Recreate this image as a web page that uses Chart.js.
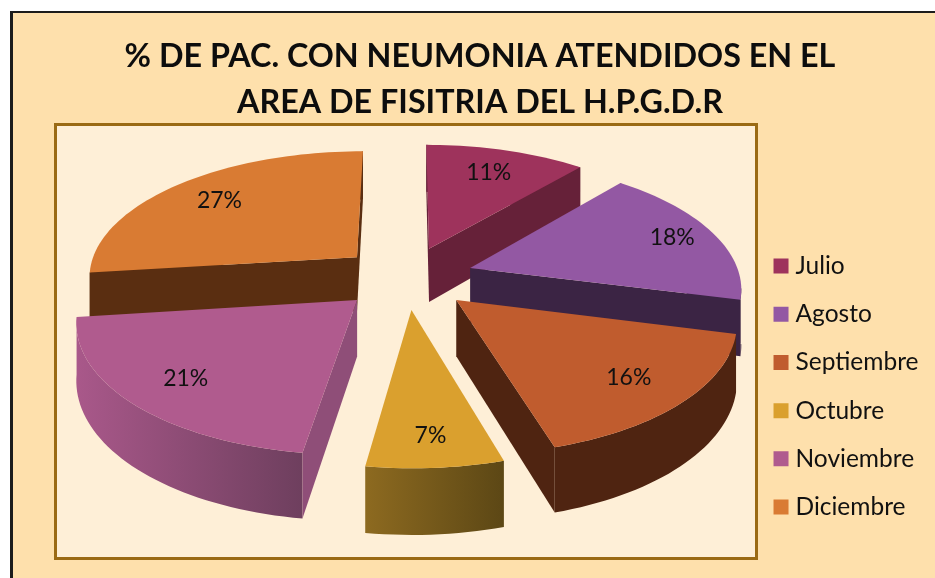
<!DOCTYPE html>
<html><head><meta charset="utf-8">
<style>html,body{margin:0;padding:0;background:#fff}canvas{display:block}</style>
<script src="https://cdn.jsdelivr.net/npm/chart.js@4"></script>
</head><body>
<div style="width:935px;height:578px"><canvas id="c" width="935" height="578"></canvas></div>
<script>
const categories = ['Julio','Agosto','Septiembre','Octubre','Noviembre','Diciembre'];
const values = [11.2,17.8,16.45,6.85,20.7,27];
const titleLines = ['% DE PAC. CON NEUMONIA ATENDIDOS EN EL','AREA DE FISITRIA DEL H.P.G.D.R'];

const topColors  = ['#9E335C','#9358A3','#C05C2E','#DAA02E','#B05B8E','#D97B33'];
const cutColors  = ['#662139','#3B2444','#4F2411','#5C4515','#8F4E78','#5A2E11'];
const rimLeft    = ['#662139','#3B2444','#4F2411','#8D6A20','#A9588A','#5A2E11'];
const rimRight   = ['#662139','#3B2444','#4F2411','#5C4715','#6E3F5E','#5A2E11'];
const labelRadius = [0.75,0.83,0.78,0.82,0.78,0.76];

const VIEW = {cx:406.5, cy:277.5, rx:270, ry:126, k:0.14, depth:55, explode:0.25};

function project(x, y, z){
  const w = 1/(1 + VIEW.k*y);
  return [VIEW.cx + VIEW.rx*x*w, VIEW.cy - VIEW.ry*y*w + VIEW.depth*z*w];
}

class Slice3D extends Chart.ArcElement {
  static id = 'slice3d';
  draw(ctx){
    const a0 = this.startAngle + Math.PI/2, a1 = this.endAngle + Math.PI/2;
    const mid = (a0+a1)/2, i = this.$index;
    const ox = VIEW.explode*Math.sin(mid), oy = VIEW.explode*Math.cos(mid);
    const rim = [];
    const n = Math.max(4, Math.ceil((a1-a0)/0.03));
    for(let s=0;s<=n;s++){
      const t = a0+(a1-a0)*s/n;
      rim.push([ox+Math.sin(t), oy+Math.cos(t)]);
    }
    const apex = [ox,oy];
    const fillPoly = (pts,fill)=>{
      ctx.beginPath();
      pts.forEach((p,j)=> j?ctx.lineTo(p[0],p[1]):ctx.moveTo(p[0],p[1]));
      ctx.closePath();ctx.fillStyle=fill;ctx.fill();
    };
    const cutWall = (p,q)=>{
      const a=project(p[0],p[1],0), b=project(q[0],q[1],0);
      if(b[0]>=a[0]) return;
      fillPoly([a,b,project(q[0],q[1],1),project(p[0],p[1],1)],cutColors[i]);
    };
    const xs = rim.map(p=>project(p[0],p[1],0)[0]);
    const g = ctx.createLinearGradient(Math.min(...xs),0,Math.max(...xs),0);
    g.addColorStop(0,rimLeft[i]);g.addColorStop(1,rimRight[i]);
    ctx.save();
    const front = rim.filter((p,s)=>{
      const here=project(p[0],p[1],0)[0];
      const prev=s>0?project(rim[s-1][0],rim[s-1][1],0)[0]:Infinity;
      const next=s<n?project(rim[s+1][0],rim[s+1][1],0)[0]:-Infinity;
      return here<prev || next<here;
    });
    if(front.length>1){
      const upper=front.map(p=>project(p[0],p[1],0));
      const lower=front.map(p=>project(p[0],p[1],1)).reverse();
      fillPoly(upper.concat(lower),g);
    }
    cutWall(apex,rim[0]);
    cutWall(rim[n],apex);
    fillPoly([project(apex[0],apex[1],0)].concat(rim.map(p=>project(p[0],p[1],0))),topColors[i]);
    const r=labelRadius[i];
    const L=project(ox+r*Math.sin(mid),oy+r*Math.cos(mid),0);
    ctx.fillStyle='#111';ctx.font='23px Lato';ctx.textAlign='center';ctx.textBaseline='middle';
    ctx.fillText(Math.round(values[i])+'%',L[0],L[1]);
    ctx.restore();
  }
}
class Pie3D extends Chart.PieController {
  static id = 'pie3d';
  static defaults = {dataElementType:'slice3d'};
  draw(){
    const ctx=this._ctx, els=this._cachedMeta.data.slice();
    els.forEach((e,i)=>{e.$index=i;});
    const depth=e=>Math.cos((e.startAngle+e.endAngle)/2+Math.PI/2);
    els.sort((a,b)=>depth(b)-depth(a));
    els.forEach(e=>e.draw(ctx));
  }
}
Chart.register(Slice3D, Pie3D);

const frame = {
  id:'frame',
  beforeDraw(chart){
    const c=chart.ctx;
    c.save();
    c.fillStyle='#FEE0AC';c.fillRect(10,11,925,567);
    c.fillStyle='#1c1c1c';c.fillRect(10,11,3,567);c.fillRect(10,11,925,2);
    c.fillStyle='#FEEFD7';c.fillRect(55,124,702,435);
    c.strokeStyle='#9A6A14';c.lineWidth=3;c.strokeRect(55.5,124.5,701,434);
    c.restore();
  }
};

new Chart(document.getElementById('c'),{
  type:'pie3d',
  data:{labels:categories,datasets:[{data:values,backgroundColor:topColors,borderColor:topColors,borderWidth:10.5}]},
  plugins:[frame],
  options:{
    responsive:false,animation:false,
    layout:{padding:{left:31.5,right:6.5,top:0,bottom:35}},
    plugins:{
      tooltip:{enabled:false},
      title:{display:true,text:titleLines,color:'#0d0d0d',font:{family:'Lato',size:32.3,weight:'bold',lineHeight:1.44},padding:{top:33,bottom:9}},
      legend:{position:'right',align:'end',labels:{boxWidth:4.5,boxHeight:4.5,padding:23.7,color:'#111',font:{family:'Lato',size:24.5}}}
    }
  }
});
</script>
</body></html>
